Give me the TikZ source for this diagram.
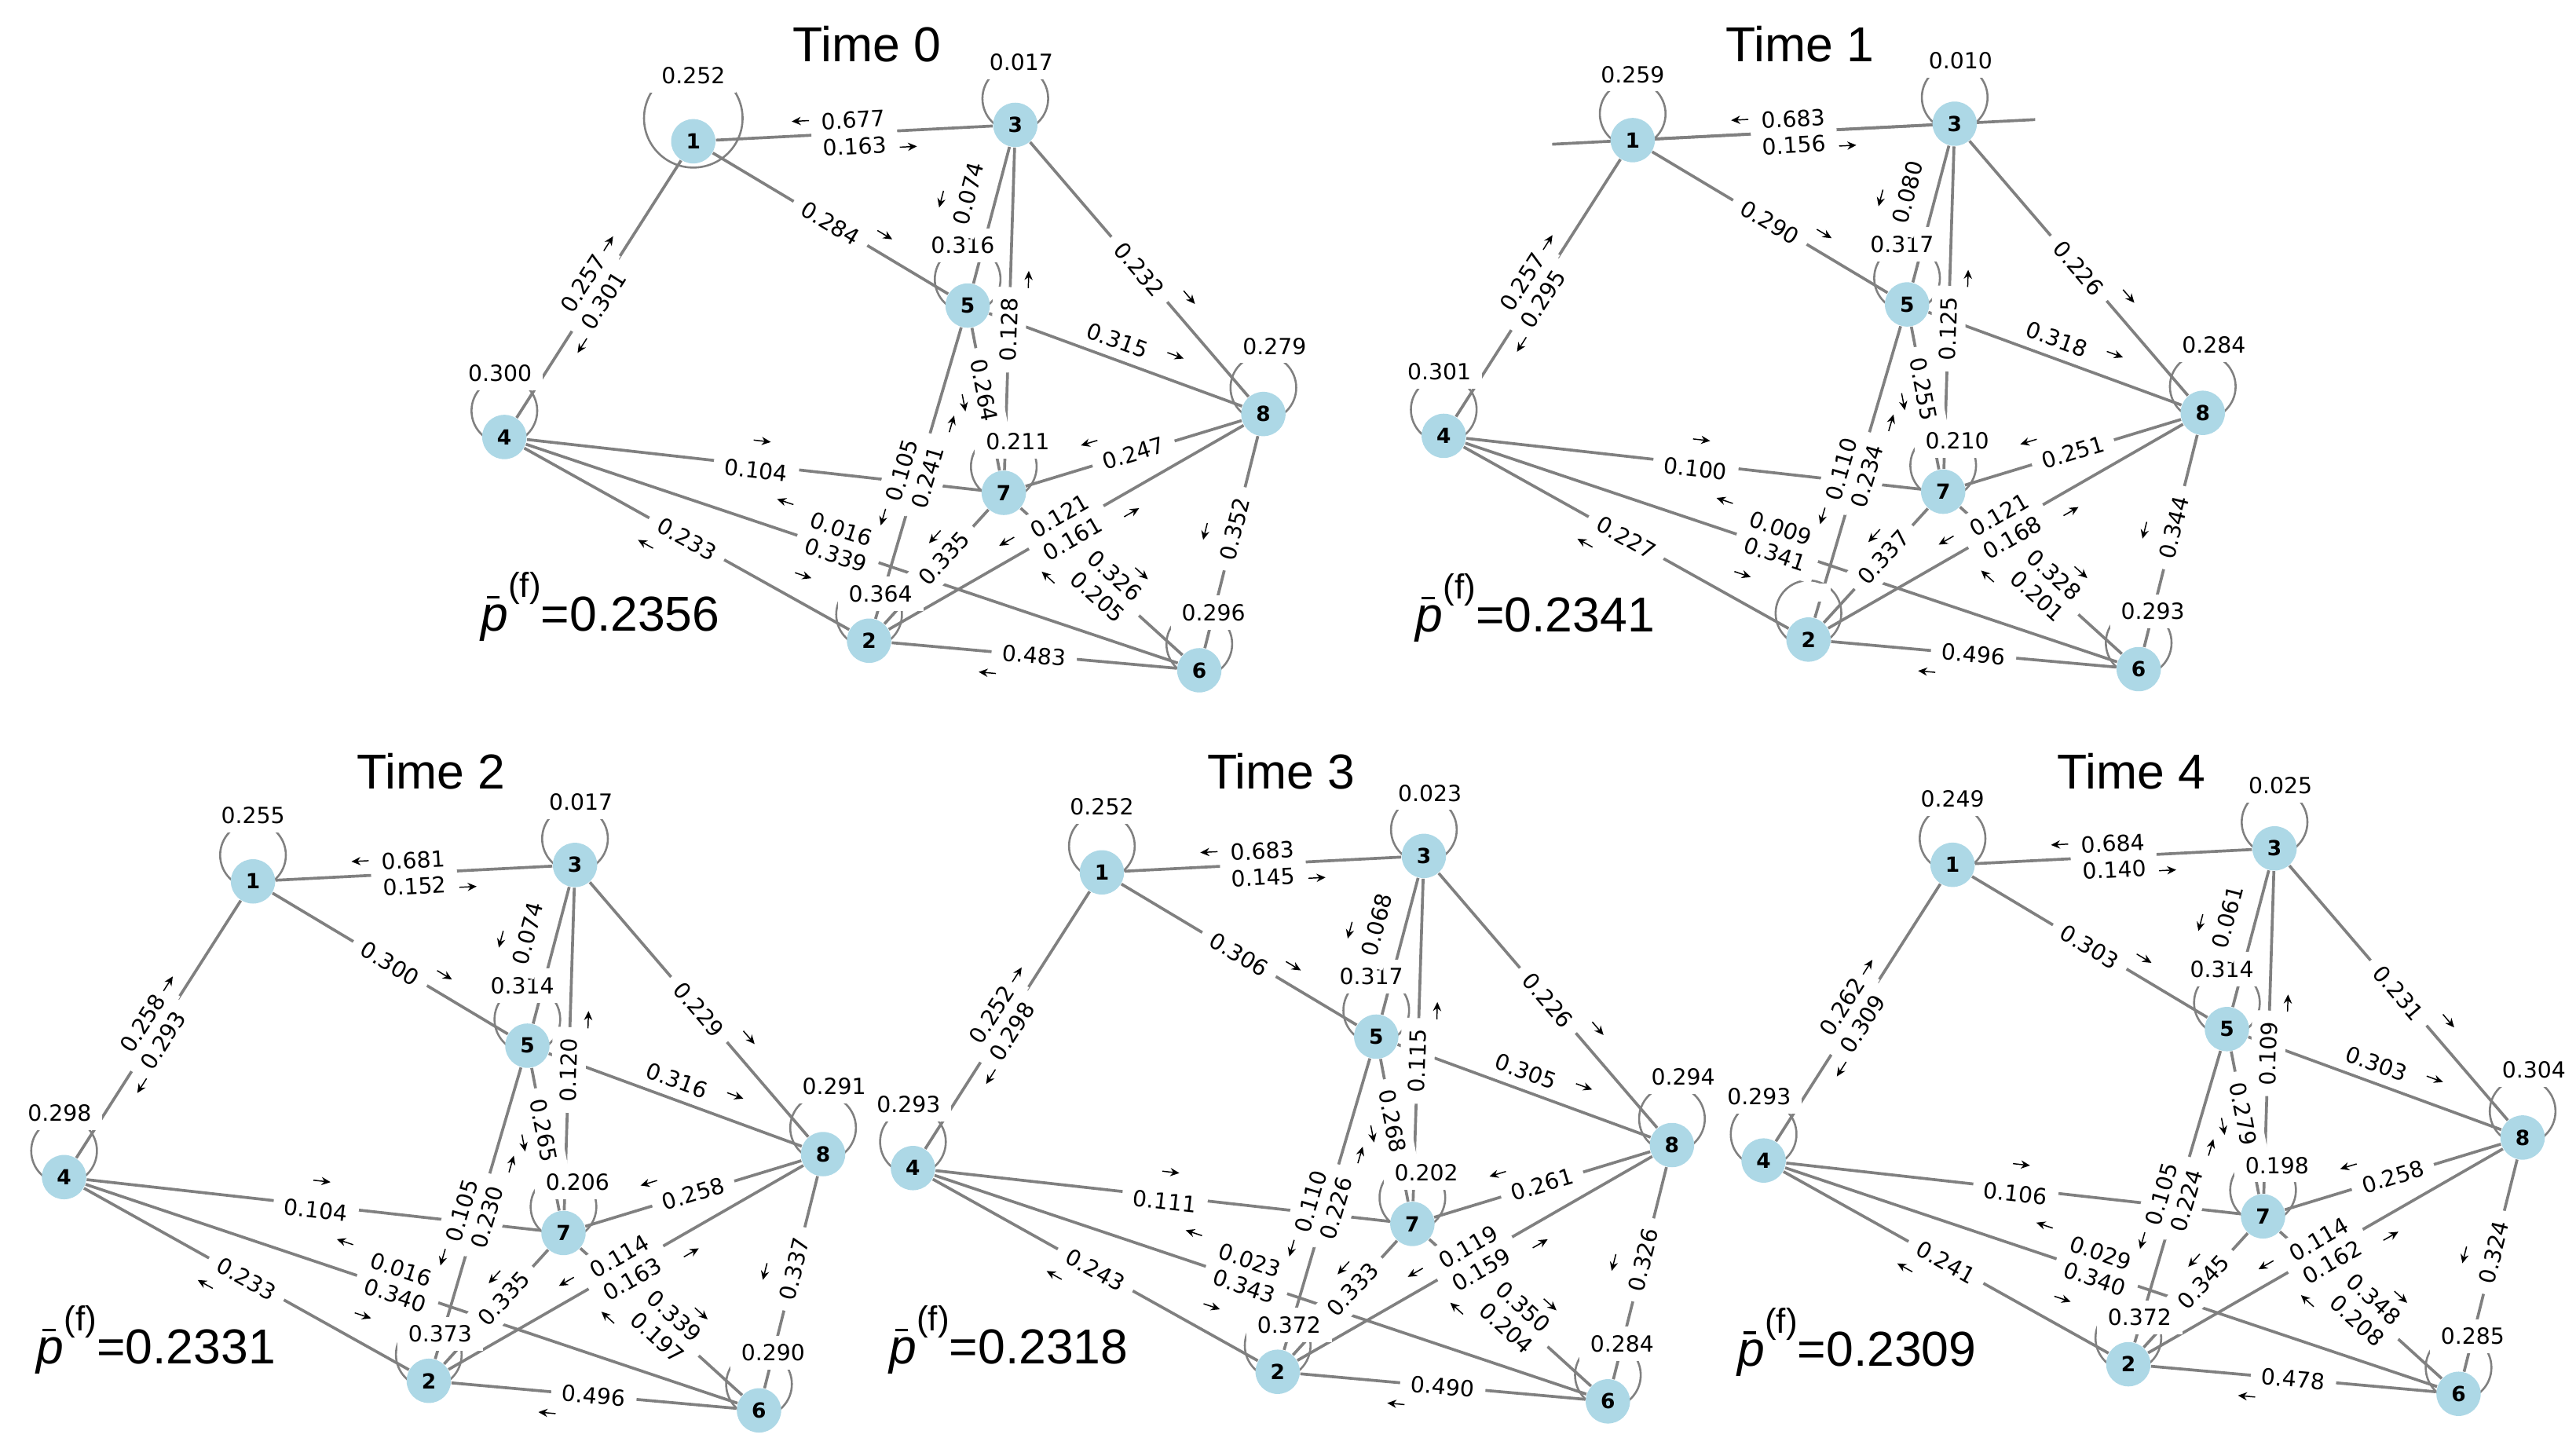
\documentclass[tikz,border=0pt]{standalone}
\usepackage{fontspec}
\setmainfont{DejaVu Sans}
\newfontfamily\labfont{DejaVu Sans}
\newfontfamily\headfont{Liberation Sans}
\usetikzlibrary{calc, backgrounds, arrows.meta}
\definecolor{nodeblue}{RGB}{173,216,230}
\definecolor{linkgray}{RGB}{128,128,128}
\tikzset{
  state/.style={
    circle,
    fill=nodeblue,
    minimum size=5.4mm,
    inner sep=0pt,
    font=\labfont\bfseries\fontsize{7.2}{7.2}\selectfont
  },
  link/.style={draw=linkgray, line width=1pt},
  selfloop/.style={draw=linkgray, line width=0.7pt},
  weight/.style={fill=white, inner xsep=3.8pt, inner ysep=3pt, font=\labfont\fontsize{7.7}{8}\selectfont},
  elab/.style={weight, sloped},
  dirarrow/.style={-{Stealth[length=1.1mm, width=1mm]}, line width=0.4pt},
  paneltitle/.style={font=\headfont\fontsize{17}{20}\selectfont},
  pval/.style={anchor=base west, inner sep=0pt, font=\headfont\fontsize{17}{20}\selectfont}
}

\newcounter{wcount}
% values of one panel, read by \wv{k}
\newcommand{\setvals}[1]{%
  \foreach \val [count=\i] in {#1} {\expandafter\xdef\csname val\i\endcsname{\val}}}
\newcommand{\wv}[1]{\csname val#1\endcsname}

% weight on the line a--b, at pos, shifted sideways
\newcommand{\elab}[5]{%
  \stepcounter{wcount}%
  \path ($(#1)!#4*0.2mm!90:(#2)$) -- ($(#2)!#4*0.2mm!-90:(#1)$)
    node[elab, pos=#3] (w\arabic{wcount}) {#5};}

% small arrow from a towards b
\newcommand{\earr}[4]{%
  \path ($(#1)!#4*0.2mm!90:(#2)$) -- ($(#2)!#4*0.2mm!-90:(#1)$)
    coordinate[pos=#3] (ac) coordinate[pos=1] (ae);
  \draw[dirarrow] ($(ac)!-1mm!(ae)$) -- ($(ac)!1.1mm!(ae)$);}

\newcommand{\pbar}{\rlap{\hspace{0.12em}\rule[0.66em]{0.26em}{0.055em}}\textit{p}\raisebox{11.5pt}{\fontsize{12}{12}\selectfont(f)}}

\def\loopone{4mm}
\def\loopoff{16}

\newcommand{\network}{%
  % Define the nodes
  \node[state] (n1) at (422,86)  {1};
  \node[state] (n2) at (529,390) {2};
  \node[state] (n3) at (618,76)  {3};
  \node[state] (n4) at (307,266) {4};
  \node[state] (n5) at (589,186) {5};
  \node[state] (n6) at (730,408) {6};
  \node[state] (n7) at (611,300) {7};
  \node[state] (n8) at (769,252) {8};

  % lines and self loops
  \begin{scope}[on background layer]
    \foreach \a/\b in {1/3,1/4,1/5,3/5,3/7,3/8,5/8,5/7,5/2,4/7,4/6,4/2,7/8,7/2,2/8,7/6,8/6,2/6}
      {\draw[link] (n\a) -- (n\b);}
    \draw[selfloop] ($(n1)+(0,-\loopoff)$) circle (\loopone);
    \foreach \k in {2,...,8}
      {\draw[selfloop] ($(n\k)+(0,-16)$) circle (4mm);}
  \end{scope}

  % weight of each self loop
  \node[weight] (l1) at ($(n1)+(0,-40)$)       {\wv{25}};
  \node[weight] (l3) at ($(n3)+(3.6,-38.3)$)   {\wv{26}};
  \node[weight] (l5) at ($(n5)+(-3,-36.6)$)    {\wv{27}};
  \node[weight] (l4) at ($(n4)+(-2.7,-38.9)$)  {\wv{28}};
  \node[weight] (l7) at ($(n7)+(8.5,-31.1)$)   {\wv{29}};
  \node[weight] (l8) at ($(n8)+(6.8,-41.3)$)   {\wv{30}};
  \node[weight] (l2) at ($(n2)+(6.9,-28.6)$)   {\wv{31}};
  \node[weight] (l6) at ($(n6)+(8.6,-35.1)$)   {\wv{32}};

  % weights on the lines
  \elab{n1}{n3}{.5}{8}{\wv{1}}
  \elab{n1}{n3}{.5}{-8}{\wv{2}}
  \elab{n1}{n4}{.51}{-10}{\wv{3}}
  \elab{n1}{n4}{.52}{6}{\wv{4}}
  \elab{n1}{n5}{.5}{0}{\wv{5}}
  \elab{n3}{n5}{.42}{-17}{\wv{6}}
  \elab{n3}{n7}{.557}{0}{\wv{7}}
  \elab{n3}{n8}{.5}{0}{\wv{8}}
  \elab{n5}{n8}{.484}{11.5}{\wv{9}}
  \elab{n5}{n7}{.452}{0}{\wv{10}}
  \elab{n5}{n2}{.506}{-10}{\wv{11}}
  \elab{n5}{n2}{.504}{6}{\wv{12}}
  \elab{n4}{n7}{.505}{-3}{\wv{13}}
  \elab{n4}{n6}{.476}{12}{\wv{14}}
  \elab{n4}{n6}{.48}{-4}{\wv{15}}
  \elab{n4}{n2}{.5}{0}{\wv{16}}
  \elab{n7}{n8}{.5}{0}{\wv{17}}
  \elab{n7}{n2}{.443}{0}{\wv{18}}
  \elab{n2}{n8}{.5}{8}{\wv{19}}
  \elab{n2}{n8}{.5}{-8}{\wv{20}}
  \elab{n7}{n6}{.522}{8}{\wv{21}}
  \elab{n7}{n6}{.529}{-8.5}{\wv{22}}
  \elab{n8}{n6}{.448}{0}{\wv{23}}
  \elab{n2}{n6}{.5}{0}{\wv{24}}

  % direction of each weight
  \earr{n3}{n1}{.664}{-9}
  \earr{n1}{n3}{.664}{-10}
  \earr{n4}{n1}{.623}{10}
  \earr{n1}{n4}{.66}{10}
  \earr{n1}{n5}{.663}{11}
  \earr{n3}{n5}{.483}{-32}
  \earr{n7}{n3}{.58}{-11}
  \earr{n3}{n8}{.64}{12}
  \earr{n5}{n8}{.673}{15}
  \earr{n5}{n7}{.495}{-13.5}
  \earr{n5}{n2}{.648}{-13}
  \earr{n2}{n5}{.661}{-11}
  \earr{n4}{n7}{.51}{15}
  \earr{n6}{n4}{.608}{-17}
  \earr{n4}{n6}{.446}{-22}
  \earr{n2}{n4}{.579}{15}
  \earr{n8}{n7}{.644}{-14}
  \earr{n7}{n2}{.393}{-13}
  \earr{n8}{n2}{.628}{-10.6}
  \earr{n2}{n8}{.64}{-12}
  \earr{n7}{n6}{.59}{20}
  \earr{n6}{n7}{.659}{20}
  \earr{n8}{n6}{.483}{-17}
  \earr{n6}{n2}{.635}{13}
}

\begin{document}
\begin{tikzpicture}[x=0.2mm, y=-0.2mm]
  \useasboundingbox (0,0) rectangle (1568,882);

  % Time 0
  \setvals{0.677,0.163,0.257,0.301,0.284,0.074,0.128,0.232,0.315,0.264,0.105,0.241,0.104,0.016,0.339,0.233,0.247,0.335,0.121,0.161,0.326,0.205,0.352,0.483,0.252,0.017,0.316,0.300,0.211,0.279,0.364,0.296}
  \begin{scope}[name prefix=t0-]
    \def\loopone{6mm}\def\loopoff{14}
    \network
  \end{scope}
  \node[paneltitle] (title0) at (527.7,26.7) {Time 0};
  \node[pval] (pbar0) at (292.4,384) {\pbar=0.2356};

  % Time 1
  \setvals{0.683,0.156,0.257,0.295,0.290,0.080,0.125,0.226,0.318,0.255,0.110,0.234,0.100,0.009,0.341,0.227,0.251,0.337,0.121,0.168,0.328,0.201,0.344,0.496,0.259,0.010,0.317,0.301,0.210,0.284,{},0.293}
  \begin{scope}[shift={(571.8,-0.7)}, name prefix=t1-]
    \network
    \begin{scope}[on background layer]
      \draw[link] ($(n1)!-0.25!(n3)$) -- ($(n3)!-0.25!(n1)$);
    \end{scope}
  \end{scope}
  \node[paneltitle] (title1) at (1095.7,26.7) {Time 1};
  \node[pval] (pbar1) at (861.5,384.7) {\pbar=0.2341};

  % Time 2
  \setvals{0.681,0.152,0.258,0.293,0.300,0.074,0.120,0.229,0.316,0.265,0.105,0.230,0.104,0.016,0.340,0.233,0.258,0.335,0.114,0.163,0.339,0.197,0.337,0.496,0.255,0.017,0.314,0.298,0.206,0.291,0.373,0.290}
  \begin{scope}[shift={(-268,450.5)}, name prefix=t2-]
    \network
  \end{scope}
  \node[paneltitle] (title2) at (262.3,469.7) {Time 2};
  \node[pval] (pbar2) at (22,830.2) {\pbar=0.2331};

  % Time 3
  \setvals{0.683,0.145,0.252,0.298,0.306,0.068,0.115,0.226,0.305,0.268,0.110,0.226,0.111,0.023,0.343,0.243,0.261,0.333,0.119,0.159,0.350,0.204,0.326,0.490,0.252,0.023,0.317,0.293,0.202,0.294,0.372,0.284}
  \begin{scope}[shift={(248.7,445)}, name prefix=t3-]
    \network
  \end{scope}
  \node[paneltitle] (title3) at (779.9,469.7) {Time 3};
  \node[pval] (pbar3) at (541,830.2) {\pbar=0.2318};

  % Time 4
  \setvals{0.684,0.140,0.262,0.309,0.303,0.061,0.109,0.231,0.303,0.279,0.105,0.224,0.106,0.029,0.340,0.241,0.258,0.345,0.114,0.162,0.348,0.208,0.324,0.478,0.249,0.025,0.314,0.293,0.198,0.304,0.372,0.285}
  \begin{scope}[shift={(766.5,440.4)}, name prefix=t4-]
    \network
  \end{scope}
  \node[paneltitle] (title4) at (1297.5,469.7) {Time 4};
  \node[pval] (pbar4) at (1057.3,831.8) {\pbar=0.2309};
\end{tikzpicture}
\end{document}
